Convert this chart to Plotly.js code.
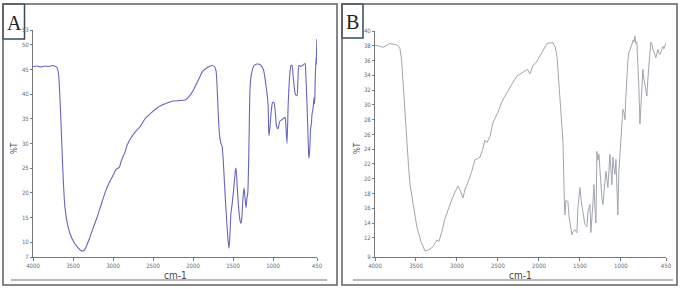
<!DOCTYPE html>
<html>
<head>
<meta charset="utf-8">
<script src="https://cdn.plot.ly/plotly-3.0.1.min.js"></script>
<style>html,body{margin:0;padding:0;background:#fff;}#chart{width:681px;height:289px;}</style>
</head>
<body>
<div id="chart"></div>
<script>
// Panel A spectrum (wavenumber cm-1, %T)
const waveA = [4000,3950,3900,3850,3800,3750,3720,3700,3680,3660,3640,3620,3600,3560,3520,3480,3440,3400,3375,3350,3300,3250,3200,3150,3100,3050,3000,2960,2937,2920,2900,2870,2850,2825,2780,2720,2662,2600,2537,2450,2400,2325,2250,2162,2100,2050,2000,1950,1900,1875,1820,1762,1730,1712,1700,1687,1670,1650,1637,1620,1600,1575,1560,1550,1540,1525,1512,1490,1470,1462,1450,1430,1410,1400,1390,1375,1362,1350,1337,1330,1325,1315,1305,1295,1287,1270,1240,1200,1162,1120,1090,1062,1055,1050,1040,1025,1005,987,970,955,937,915,890,875,850,840,825,810,790,775,762,745,720,700,690,675,650,625,600,590,575,565,555,550,540,530,520,512,500,487,480,475,470,462,458,455,450];
const transA = [45.6,45.7,45.5,45.7,45.6,45.8,45.6,45.4,44,38,30,22,17,13,11,9.8,8.9,8.3,8.2,8.6,10.5,12.8,15,17.5,20,22,23.5,24.8,25,25.2,26.3,27.5,28.2,29.6,31,32.4,33.4,35,36,37.2,37.7,38.2,38.6,38.7,38.8,39.5,40.7,42.3,44,44.7,45.4,45.8,45.5,44.7,42,37,32,30,29.5,26,20,13.4,10,8.8,11,16,17.5,21,24.5,25,22,17,14.2,13.8,15,19,21,19,17,18.2,18.9,20,26,35,41.3,44,45.7,46.1,46,45,42,38,33,31.6,33,36,38.3,38.3,36,33.5,33,34.5,34.8,35,35.3,34,30,38,44,45.8,45.8,43,40,39.7,42,45.8,45.6,45.9,46.2,44,38,33,28,27,29,33,34,36,37,39.3,38,41,44,47.4,46,49,51.2];

// Panel B spectrum
const waveB = [4000,3950,3900,3850,3817,3770,3732,3710,3695,3675,3658,3640,3610,3590,3573,3530,3488,3440,3390,3340,3293,3260,3244,3220,3180,3150,3122,3085,3040,2988,2960,2927,2900,2866,2820,2780,2750,2720,2690,2660,2634,2598,2561,2500,2450,2390,2330,2268,2220,2170,2140,2110,2073,2030,1988,1950,1902,1860,1829,1800,1780,1760,1744,1720,1707,1690,1683,1671,1660,1646,1634,1622,1610,1598,1580,1561,1550,1537,1524,1500,1485,1463,1450,1439,1415,1402,1378,1366,1341,1329,1317,1305,1293,1280,1268,1250,1232,1220,1200,1183,1159,1134,1110,1098,1085,1073,1061,1050,1037,1025,1000,988,976,963,951,940,927,915,902,885,866,850,840,829,818,805,793,780,768,756,744,732,720,707,695,683,671,660,646,634,622,610,598,585,573,561,549,536,524,510,500,488,475,463,450];
const transB = [38.1,37.9,37.8,38.1,38.3,38.2,38.1,37.9,37.6,36,33,29,24.8,21.5,19.2,16,13.4,11.5,10.2,10.4,10.8,11.4,11.7,11.5,13,14.5,15.5,16.5,17.8,19,18.4,17.4,18.6,19.5,21,22.6,22.7,22.9,23.8,25.2,24.9,25.7,27.6,29,30.5,31.7,32.8,33.9,34.2,34.6,34.8,34.2,35.3,35.8,36.6,37.3,38.3,38.4,38.4,37.8,36.6,33.5,30.8,27,25,17,15.1,17.1,16.9,16.8,15,14.2,13.2,12.4,12.9,13.1,12.9,12.7,16.2,18.8,17,15.1,14,13.8,13.5,15.5,16.5,12.7,16.8,19.2,16,14,23.7,22.5,23.3,20,17.4,16.5,19,21,18.8,23.3,19.2,22.9,21.5,20.6,22.6,19,15.1,21,26,27.6,29.4,29,28,31,34.8,36,37.1,37.8,38.2,38.8,38.5,39.3,38.3,38.5,36.2,32,27.4,30,33.5,34.8,33.5,32.5,31.5,31.2,33.5,35.5,37.1,38.5,38.2,37.5,37.1,36.8,36.4,37,37.5,37,36.8,37.2,37.6,37.9,37.6,38.2,38.4];

const xTicks = [4000,3500,3000,2500,2000,1500,1000,450];
const yTicksA = [7,10,15,20,25,30,35,40,45,50,53];
const yTicksB = [9.4,12,14,16,18,20,22,24,26,28,30,32,34,36,38,40];
const yTextB = ["9","12","14","16","18","20","22","24","26","28","30","32","34","36","38","40"];
const panelLabels = ["A","B"];
const xTitle = "cm-1";
const yTitle = "%T";

const W = 681, H = 289;
const px = v => v / W;
const py = v => 1 - v / H;
const condensed = "DejaVu Sans Condensed, Liberation Sans Narrow, Arial Narrow, sans-serif";
const tickFont = {family: condensed, size: 6, color: "#6a6a6a"};

function xax(d0, d1, anchor) {
  return {domain: [px(d0), px(d1)], range: [4000, 450], anchor: anchor,
    tickvals: xTicks, ticktext: xTicks.map(String), ticks: "outside", ticklen: 3, tickcolor: "#777",
    showline: true, linecolor: "#777", linewidth: 1, showgrid: false, zeroline: false,
    tickfont: tickFont, fixedrange: true};
}
function yax(d0, d1, range, vals, texts, anchor) {
  return {domain: [py(d0), py(d1)], range: range, anchor: anchor,
    tickvals: vals, ticktext: texts, ticks: "outside", ticklen: 2, tickcolor: "#777",
    showline: true, linecolor: "#777", linewidth: 1, showgrid: false, zeroline: false,
    tickfont: tickFont, fixedrange: true};
}

const data = [
  {x: waveA, y: transA, type: "scatter", mode: "lines", xaxis: "x", yaxis: "y",
   line: {color: "rgb(102,102,192)", width: 1.1, shape: "spline", smoothing: 0.6}, hoverinfo: "skip"},
  {x: waveB, y: transB, type: "scatter", mode: "lines", xaxis: "x2", yaxis: "y2",
   line: {color: "rgb(160,165,176)", width: 1, shape: "linear"}, hoverinfo: "skip"}
];

const shapes = [
  {type: "rect", xref: "paper", yref: "paper", x0: px(3), x1: px(337), y0: py(285), y1: py(4), line: {color: "#606060", width: 1.5}},
  {type: "rect", xref: "paper", yref: "paper", x0: px(342), x1: px(677), y0: py(285), y1: py(4), line: {color: "#606060", width: 1.5}},
  {type: "rect", xref: "paper", yref: "paper", x0: px(3), x1: px(24.5), y0: py(39), y1: py(4), line: {color: "#34495e", width: 1.5}, fillcolor: "#fff", layer: "below"},
  {type: "rect", xref: "paper", yref: "paper", x0: px(342), x1: px(363), y0: py(38), y1: py(4), line: {color: "#34495e", width: 1.5}, fillcolor: "#fff", layer: "below"},
  {type: "line", xref: "paper", yref: "paper", x0: px(11), x1: px(327), y0: py(280), y1: py(280), line: {color: "#a0a0a0", width: 1.5}},
  {type: "line", xref: "paper", yref: "paper", x0: px(353), x1: px(673), y0: py(280), y1: py(280), line: {color: "#a0a0a0", width: 1.5}}
];

const serif = {family: "Liberation Serif, Times New Roman, serif", size: 20, color: "#222"};
const narrow = {family: condensed, size: 10, color: "#444"};
const annotations = [
  {text: panelLabels[0], xref: "paper", yref: "paper", x: px(14), y: py(23), showarrow: false, font: serif, xanchor: "center", yanchor: "middle"},
  {text: panelLabels[1], xref: "paper", yref: "paper", x: px(352.5), y: py(22), showarrow: false, font: serif, xanchor: "center", yanchor: "middle"},
  {text: xTitle, xref: "paper", yref: "paper", x: px(175), y: py(275), showarrow: false, font: narrow, xanchor: "center", yanchor: "middle"},
  {text: xTitle, xref: "paper", yref: "paper", x: px(520), y: py(275), showarrow: false, font: narrow, xanchor: "center", yanchor: "middle"},
  {text: yTitle, xref: "paper", yref: "paper", x: px(14), y: py(148), showarrow: false, font: {family: condensed, size: 8, color: "#444"}, textangle: -90, xanchor: "center", yanchor: "middle"},
  {text: yTitle, xref: "paper", yref: "paper", x: px(357), y: py(148), showarrow: false, font: {family: condensed, size: 8, color: "#444"}, textangle: -90, xanchor: "center", yanchor: "middle"}
];

const layout = {
  width: W, height: H, margin: {l: 0, r: 0, t: 0, b: 0},
  paper_bgcolor: "#fff", plot_bgcolor: "rgba(0,0,0,0)", showlegend: false,
  xaxis: xax(33, 317, "y"),
  yaxis: yax(257, 30, [7, 53], yTicksA, yTicksA.map(String), "x"),
  xaxis2: xax(375, 666, "y2"),
  yaxis2: yax(257, 31, [9.4, 40], yTicksB, yTextB, "x2"),
  shapes: shapes, annotations: annotations
};

Plotly.newPlot("chart", data, layout, {staticPlot: true, displayModeBar: false});
</script>
</body>
</html>
